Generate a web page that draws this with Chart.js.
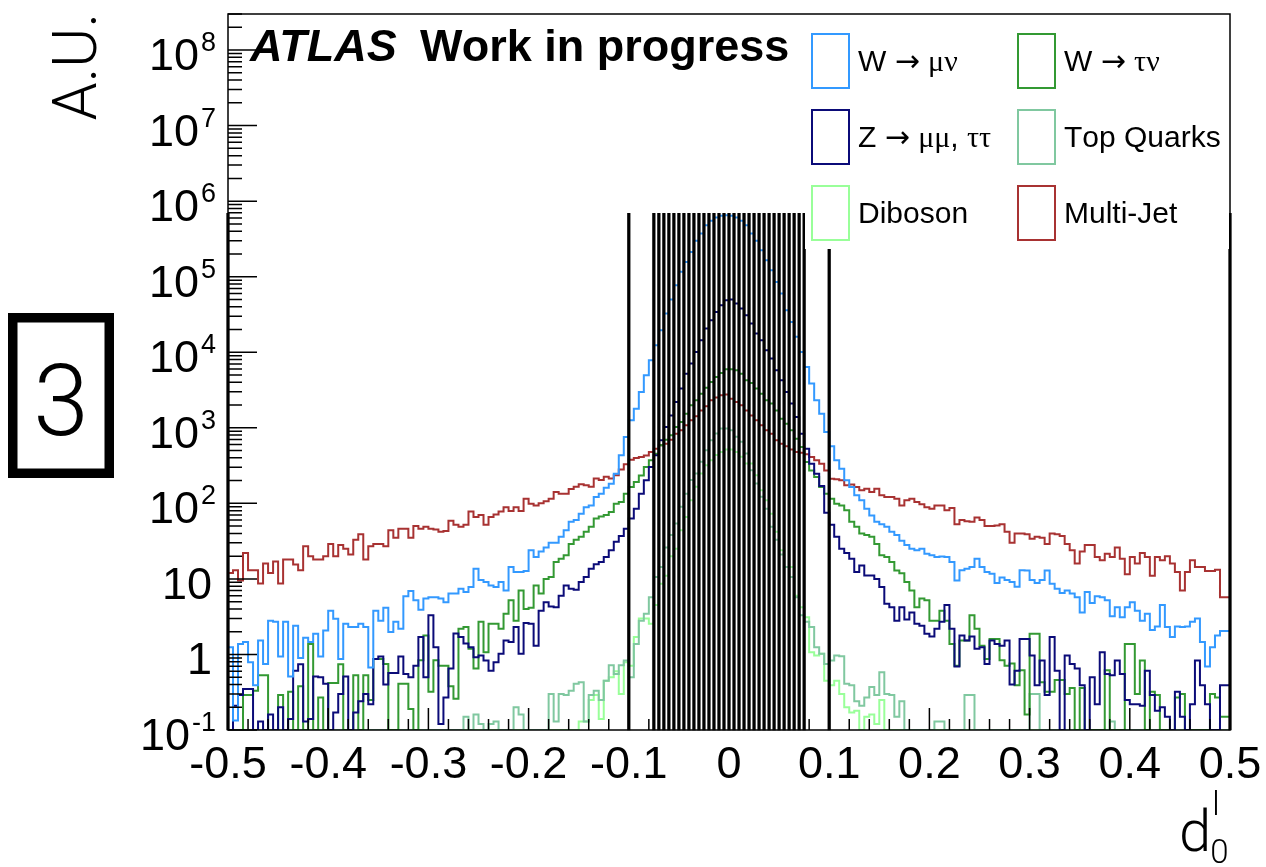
<!DOCTYPE html>
<html>
<head>
<meta charset="utf-8">
<title>d0 distribution</title>
<script src="https://cdn.jsdelivr.net/npm/chart.js@4.4.1/dist/chart.umd.min.js"></script>
<style>
  html, body { margin: 0; padding: 0; background: #fff; }
  canvas { display: block; }
</style>
</head>
<body>
<canvas id="chart" width="1266" height="867"></canvas>
<script>
// 200 bins of 0.005 between -0.5 and 0.5
const binLow = -0.5;
const binWidth = 0.005;

// bin contents, empty bins are 0
const wmunu = [
  0.68, 1.25, 0.134, 1.38, 1.46, 0.79, 0.39, 1.53, 0.75, 2.8,
  2.7, 0.94, 2.7, 0.51, 2.4, 0.9, 1.66, 1.46, 1.88, 0.94,
  2.08, 3.8, 2.97, 0.87, 2.55, 2.3, 2.3, 2.55, 2.3, 0.67,
  3.8, 2.8, 4.15, 1.98, 2.7, 2.19, 5.9, 6.9, 5.2, 3.9,
  5.5, 5.7, 5.7, 5.5, 4.9, 6.4, 6.4, 7.4, 6.7, 7.8,
  13.6, 9.7, 9.1, 8.2, 7.8, 9.1, 7.0, 14.4, 12.3, 12.3,
  12.7, 24, 19.5, 23, 26, 30, 30, 36, 44, 57,
  60, 73, 89, 94, 121, 134, 161, 182, 247, 432,
  755, 1256, 1790, 2980, 4950, 7830, 12400, 19500, 32500, 49800,
  77100, 116000, 157000, 213000, 298000, 373000, 481000, 549000, 607000, 640000,
  653000, 640000, 607000, 549000, 481000, 373000, 298000, 224000, 165000, 122000,
  85300, 59800, 36000, 25200, 16000, 10100, 6400, 3850, 2310, 1540,
  880, 569, 372, 288, 202, 164, 128, 110, 85, 69,
  57, 53, 49, 42, 38, 32, 28, 25, 24, 25,
  21.5, 20.5, 19.5, 19.8, 19.5, 16.7, 9.5, 13, 13.6, 14.4,
  18.5, 14.4, 12.3, 11.7, 8.8, 10.4, 9.7, 9.1, 7.9, 13,
  12.9, 9.7, 8.8, 9.7, 12.9, 8.6, 7.4, 6.5, 7.0, 6.4,
  5.7, 3.6, 6.7, 4.8, 5.9, 5.7, 5.2, 3.2, 4.2, 3.1,
  4.2, 4.9, 3.8, 2.8, 3.45, 2.1, 2.35, 4.5, 2.3, 1.7,
  2.35, 2.3, 2.35, 2.7, 3.0, 1.46, 0.69, 1.25, 1.78, 2.04
];

const wtaunu = [
  0.45, 0, 0, 0, 0.29, 0.29, 0.33, 0.53, 0.53, 0,
  0, 0.29, 0, 0.32, 0, 0.38, 0, 1.38, 0, 0.27,
  0, 0.42, 0.42, 0.74, 0, 0, 0.53, 0, 0.53, 0.25,
  0.87, 0.87, 0.75, 0, 0, 0.41, 0.41, 0.19, 0, 0.84,
  1.78, 0.32, 0.84, 0.71, 0.71, 0.38, 0.26, 2.19, 2.3, 1.19,
  0.65, 2.7, 1.07, 2.55, 2.55, 2.19, 3.45, 5.2, 2.8, 7.0,
  4.0, 4.15, 8.2, 6.4, 10, 10.6, 16.7, 18.5, 20.5, 29,
  33, 36, 42, 49, 63, 67, 70, 77, 99, 104,
  134, 164, 191, 234, 303, 371, 455, 586, 697, 795,
  1025, 1195, 1540, 1990, 2310, 2830, 3400, 4040, 4710, 5320,
  5950, 5950, 5770, 5210, 4250, 3920, 3300, 2830, 2310, 2090,
  1700, 1320, 1135, 927, 718, 557, 352, 273, 223, 164,
  134, 115, 99, 94, 81, 57, 49, 40, 38, 36,
  29, 20.5, 19.5, 16.7, 12.9, 11.9, 9.1, 7.0, 4.2, 5.5,
  5.2, 2.8, 2.8, 3.8, 2.8, 1.38, 0.71, 1.53, 1.53, 3.3,
  2.19, 1.3, 0.87, 1.6, 1.6, 0.84, 0.71, 0.76, 0.39, 0.62,
  0.16, 1.88, 1.88, 0.43, 0.32, 0.32, 0.46, 0.46, 0.3, 0.36,
  0, 0.36, 0, 0, 0, 0, 0.62, 0, 0, 0,
  1.38, 1.38, 0.3, 0.83, 0, 0.32, 0.29, 0, 0, 0,
  0.27, 0.3, 0, 0, 0, 0, 0, 0.3, 0.27, 0.15
];

const zll = [
  0.19, 0, 0.21, 0.29, 0.35, 0.35, 0, 0.13, 0, 0.16,
  0, 0.2, 0, 0.14, 0.61, 0.74, 0.13, 0.14, 0.51, 0.5,
  0.41, 0, 0.17, 0.3, 0.51, 0, 0.17, 0.24, 0.3, 0.22,
  0.87, 0.94, 0.4, 0.57, 0.57, 0.94, 0.55, 0.5, 0.71, 1.7,
  0.5, 3.3, 1.25, 0.12, 0.27, 0.65, 1.9, 1.7, 1.4, 1.25,
  0.92, 0.97, 0.83, 0.61, 0.79, 1.02, 1.53, 1.46, 2.3, 1.02,
  2.6, 2.55, 1.3, 3.8, 4.9, 4.3, 4.2, 6.0, 8.2, 7.4,
  7.2, 9.1, 10.6, 13.6, 15.6, 16.7, 19.5, 24, 31, 37,
  46, 63, 85, 134, 202, 303, 433, 683, 1025, 1460,
  2200, 3300, 5210, 7070, 10100, 14400, 20600, 26500, 34200, 41900,
  48800, 49800, 44100, 37900, 30900, 24000, 17700, 14400, 10600, 8240,
  5770, 4250, 2980, 2090, 1390, 836, 530, 335, 247, 170,
  75, 52, 36, 25, 22, 18.5, 12.3, 15.1, 11.1, 11.1,
  10, 7.8, 4.7, 4.2, 2.8, 4.2, 2.9, 3.6, 2.55, 2.4,
  1.88, 1.73, 2.19, 2.7, 4.5, 2.19, 0.69, 1.78, 1.53, 1.73,
  1.19, 1.25, 0.75, 1.53, 1.38, 1.3, 1.53, 0.4, 0.61, 1.6,
  1.6, 0.97, 0.39, 0.83, 0.29, 1.7, 0.61, 0, 0.97, 0.75,
  0.65, 0.39, 0, 0.5, 0.22, 1.07, 0.55, 0.53, 0.83, 0.55,
  0.25, 0.22, 0.22, 0.21, 0.61, 0.29, 0.18, 0.2, 0.15, 0,
  0.32, 0.15, 0, 0.22, 0.83, 0.39, 0.22, 0, 0, 0.39
];

const topQuarks = [
  0, 0, 0, 0, 0, 0, 0, 0, 0, 0,
  0, 0, 0, 0, 0, 0, 0, 0, 0, 0,
  0, 0, 0, 0, 0, 0, 0, 0, 0, 0,
  0, 0, 0, 0, 0, 0, 0, 0, 0, 0,
  0, 0, 0, 0, 0, 0, 0, 0, 0.15, 0,
  0.16, 0.12, 0, 0.12, 0.13, 0, 0, 0, 0.2, 0.16,
  0, 0, 0, 0, 0, 0.3, 0.13, 0.3, 0.29, 0.33,
  0.41, 0.43, 0.13, 0.29, 0.33, 0.25, 0.45, 0.72, 0.55, 0.72,
  0.83, 0.5, 1.38, 2.8, 3.45, 5.7, 10.6, 14.4, 26, 38,
  54, 90, 134, 203, 248, 355, 506, 686, 840, 980,
  980, 930, 760, 652, 457, 275, 183, 122, 85, 49,
  33, 21, 14.4, 10.6, 5.7, 3.3, 2.7, 2.3, 1.25, 1.02,
  0.75, 0.83, 0.97, 0.95, 0.41, 0.39, 0.24, 0.21, 0.27, 0.37,
  0.29, 0.58, 0.3, 0.29, 0.15, 0.24, 0, 0, 0, 0,
  0, 0, 0.13, 0.13, 0, 0, 0, 0, 0.29, 0.29,
  0, 0, 0, 0, 0, 0, 0, 0, 0, 0,
  0, 0.3, 0.3, 0, 0, 0, 0, 0, 0, 0,
  0, 0, 0, 0, 0, 0, 0, 0.13, 0, 0,
  0, 0, 0, 0, 0, 0, 0, 0, 0, 0,
  0, 0, 0, 0, 0, 0, 0, 0, 0, 0
];

const diboson = [
  0, 0, 0, 0, 0, 0, 0, 0, 0, 0,
  0, 0, 0, 0, 0, 0, 0, 0, 0, 0,
  0, 0, 0, 0, 0, 0, 0, 0, 0, 0,
  0, 0, 0, 0, 0, 0, 0, 0, 0, 0,
  0, 0, 0, 0, 0, 0, 0, 0, 0, 0,
  0, 0, 0, 0, 0, 0, 0, 0, 0, 0,
  0, 0, 0, 0, 0, 0, 0, 0, 0, 0,
  0, 0.13, 0.13, 0.25, 0.29, 0.14, 0.45, 0.5, 0.6, 0.3,
  0.79, 0.71, 1.7, 3.0, 3.0, 2.55, 4.5, 8.6, 11, 20,
  25, 44, 66, 110, 166, 248, 320, 373, 435, 480,
  517, 517, 480, 413, 336, 336, 236, 149, 110, 73,
  42, 24, 14.4, 14.4, 6.0, 4.2, 3.1, 1.07, 0.97, 1.02,
  0.45, 0.39, 0.45, 0.3, 0.2, 0.17, 0.18, 0, 0.15, 0.16,
  0.12, 0.25, 0, 0, 0, 0, 0, 0, 0, 0,
  0, 0, 0, 0, 0, 0, 0, 0, 0, 0,
  0, 0, 0, 0, 0, 0, 0, 0, 0, 0,
  0, 0, 0, 0, 0, 0, 0, 0, 0, 0,
  0, 0, 0, 0, 0, 0, 0, 0, 0, 0,
  0, 0, 0, 0, 0, 0, 0, 0, 0, 0,
  0, 0, 0, 0, 0, 0, 0, 0, 0, 0
];

const multijet = [
  4, 12, 13, 9.5, 22, 13, 13, 8.7, 16, 12,
  17, 8.7, 18, 18, 15.5, 13, 27, 20, 18, 18,
  20, 29, 20, 28, 25, 21, 33, 39, 18, 27,
  29, 29, 27, 44, 35, 46, 46, 35, 50, 46,
  49, 46, 45, 42, 43, 59, 52, 49, 52, 78,
  66, 70, 52, 66, 71, 78, 89, 79, 89, 79,
  115, 99, 94, 100, 107, 115, 141, 134, 134, 155,
  166, 179, 174, 166, 213, 204, 225, 213, 236, 280,
  330, 378, 398, 410, 430, 478, 530, 586, 617, 697,
  835, 927, 1080, 1260, 1420, 1700, 1930, 2310, 2510, 2700,
  2750, 2430, 2200, 1990, 1700, 1460, 1260, 1080, 927, 835,
  683, 617, 569, 515, 478, 469, 446, 410, 371, 335,
  273, 212, 208, 202, 173, 178, 164, 149, 156, 141,
  156, 128, 121, 121, 115, 94, 110, 115, 104, 97,
  89, 85, 94, 94, 81, 87, 53, 60, 58, 57,
  65, 60, 50, 50, 51, 53, 42, 30, 40, 40,
  39, 34, 36, 35, 29, 40, 39, 37, 29, 24,
  16, 23, 28, 28, 19.5, 17.6, 21.5, 19.5, 26, 18.5,
  11.5, 19.5, 16, 22, 19.5, 11, 19.5, 17.6, 20, 16,
  12.3, 7, 12.3, 17.6, 14.4, 14.4, 12.7, 12.7, 13.2, 5.7
];

// black vertical lines
const cutEdges = [
  -0.5, -0.1,
  -0.075, -0.07, -0.065, -0.06, -0.055, -0.05, -0.045, -0.04, -0.035, -0.03, -0.025,
  -0.02, -0.015, -0.01, -0.005, 0, 0.005, 0.01, 0.015, 0.02, 0.025, 0.03, 0.035,
  0.04, 0.045, 0.05, 0.055, 0.06, 0.065, 0.07, 0.075,
  0.1, 0.5
];
const cutTop = 6.9e5;

const xTicks = [-0.5, -0.4, -0.3, -0.2, -0.1, 0, 0.1, 0.2, 0.3, 0.4, 0.5];
const xTickLabels = ['-0.5', '-0.4', '-0.3', '-0.2', '-0.1', '0', '0.1', '0.2', '0.3', '0.4', '0.5'];
const yTicks = [0.1, 1, 10, 1e2, 1e3, 1e4, 1e5, 1e6, 1e7, 1e8];
const yTickLabels = [['10', '-1'], ['1', ''], ['10', ''], ['10', '2'], ['10', '3'],
  ['10', '4'], ['10', '5'], ['10', '6'], ['10', '7'], ['10', '8']];

const yMin = 0.1;
const yMax = 3e8;

const legendItems = [
  { label: 'W → μν', color: '#3399ff' },
  { label: 'W → τν', color: '#339933' },
  { label: 'Z → μμ, ττ', color: '#0b0b78' },
  { label: 'Top Quarks', color: '#80c8a0' },
  { label: 'Diboson', color: '#99ff99' },
  { label: 'Multi-Jet', color: '#a83232' },
];

const SANS = '"Liberation Sans", Arial, sans-serif';
const SERIF = '"Liberation Serif", "DejaVu Serif", serif';
const ARROW = '"DejaVu Sans", sans-serif';
const LIGHT = 'Roboto, "Liberation Sans", sans-serif';

// histogram outline as a stepped line through the bin edges
const steps = (vals) => {
  const pts = vals.map((v, i) => ({ x: binLow + i * binWidth, y: v > 0 ? v : yMin }));
  pts.push({ x: binLow + vals.length * binWidth, y: pts[pts.length - 1].y });
  return pts;
};

const hist = (vals, item, order) => ({
  type: 'line',
  label: item.label,
  data: steps(vals),
  borderColor: item.color,
  backgroundColor: item.color,
  borderWidth: 2,
  stepped: 'after',
  pointRadius: 0,
  fill: false,
  order: order,
});

// greek letters in a serif face and arrows from DejaVu, like ROOT's symbol font
const drawMixed = (ctx, text, x, y, size) => {
  for (const ch of text) {
    let face = SANS;
    if (/[\u0370-\u03ff]/.test(ch)) face = SERIF;
    if (/[\u2190-\u21ff]/.test(ch)) face = ARROW;
    ctx.font = `${size}px ${face}`;
    ctx.fillText(ch, x, y);
    x += ctx.measureText(ch).width;
  }
};

const rootDecor = {
  id: 'rootDecor',
  afterDraw(chart) {
    const { ctx, chartArea: a } = chart;
    const xs = chart.scales.x;
    const ys = chart.scales.y;
    ctx.save();

    // legend (white box hides the lines behind it)
    ctx.fillStyle = '#fff';
    ctx.fillRect(805, a.top + 1, a.right - 806, 234);
    const cols = [812, 1018];
    const rows = [34, 110, 186];
    legendItems.forEach((it, i) => {
      const bx = cols[i % 2];
      const by = rows[Math.floor(i / 2)];
      ctx.strokeStyle = it.color;
      ctx.lineWidth = 2;
      ctx.strokeRect(bx, by, 37, 54);
      ctx.fillStyle = '#000';
      ctx.textAlign = 'left';
      ctx.textBaseline = 'alphabetic';
      drawMixed(ctx, it.label, bx + 46, by + 37, 30);
    });

    // frame
    ctx.strokeStyle = '#000';
    ctx.lineWidth = 1.5;
    ctx.strokeRect(a.left, a.top, a.right - a.left, a.bottom - a.top);

    // x ticks, inside the frame
    ctx.beginPath();
    for (let k = 0; k <= 50; k++) {
      const v = -0.5 + k * 0.02;
      const px = xs.getPixelForValue(v);
      const len = k % 5 === 0 ? 22 : 11;
      ctx.moveTo(px, a.bottom);
      ctx.lineTo(px, a.bottom - len);
    }
    // y ticks
    for (let e = -1; e <= 8; e++) {
      for (let m = 1; m <= 9; m++) {
        const v = m * Math.pow(10, e);
        if (v > yMax) continue;
        const py = ys.getPixelForValue(v);
        const len = m === 1 ? 29 : 14;
        ctx.moveTo(a.left, py);
        ctx.lineTo(a.left + len, py);
      }
    }
    ctx.stroke();

    // x tick labels
    ctx.fillStyle = '#000';
    ctx.font = `45px ${SANS}`;
    ctx.textAlign = 'center';
    ctx.textBaseline = 'alphabetic';
    xTicks.forEach((v, i) => {
      ctx.fillText(xTickLabels[i], xs.getPixelForValue(v), 778);
    });

    // y tick labels with exponents
    yTicks.forEach((v, i) => {
      const [base, exp] = yTickLabels[i];
      const py = ys.getPixelForValue(v);
      ctx.textAlign = 'right';
      if (exp) {
        ctx.font = `27px ${SANS}`;
        const we = ctx.measureText(exp).width;
        ctx.fillText(exp, 216, py + 1);
        ctx.font = `45px ${SANS}`;
        ctx.fillText(base, 214 - we, py + 20);
      } else {
        ctx.font = `45px ${SANS}`;
        ctx.fillText(base, 212, py + 20);
      }
    });

    // axis titles
    ctx.save();
    ctx.translate(96, 13);
    ctx.rotate(-Math.PI / 2);
    ctx.font = `300 61px ${LIGHT}`;
    ctx.textAlign = 'right';
    ctx.fillText('A.U.', 0, 0);
    ctx.restore();

    ctx.textAlign = 'left';
    ctx.font = `300 58px ${LIGHT}`;
    ctx.fillText('d', 1179, 851);
    const wd = ctx.measureText('d').width;
    ctx.font = `300 33px ${LIGHT}`;
    ctx.fillText('0', 1179 + wd - 1, 863);
    ctx.fillText('l', 1179 + wd + 1, 815);

    // ATLAS label
    ctx.font = `italic bold 45px ${SANS}`;
    ctx.fillText('ATLAS', 250, 61);
    ctx.font = `bold 45px ${SANS}`;
    ctx.fillText('Work in progress', 420, 61);

    // boxed "3"
    ctx.strokeStyle = '#000';
    ctx.lineWidth = 9;
    ctx.strokeRect(13, 318, 96, 155);
    ctx.lineWidth = 2;
    ctx.strokeRect(9, 314, 104, 163);
    ctx.font = `300 100px ${LIGHT}`;
    ctx.textAlign = 'center';
    ctx.fillText('3', 61, 435);

    ctx.restore();
  }
};

const datasets = [
  {
    type: 'bar',
    label: 'cuts',
    data: cutEdges.map(x => ({ x: x, y: [yMin, cutTop] })),
    backgroundColor: '#000',
    borderWidth: 0,
    barThickness: 2.6,
    clip: false,
    order: 0,
  },
  hist(wmunu, legendItems[0], 1),
  hist(zll, legendItems[2], 2),
  hist(wtaunu, legendItems[1], 3),
  hist(topQuarks, legendItems[3], 4),
  hist(diboson, legendItems[4], 5),
  hist(multijet, legendItems[5], 6),
];

const chart = new Chart(document.getElementById('chart').getContext('2d'), {
  type: 'line',
  data: { datasets: datasets },
  options: {
    responsive: false,
    animation: false,
    devicePixelRatio: 1,
    events: [],
    layout: { padding: { left: 228, right: 36, top: 14, bottom: 137 } },
    scales: {
      x: { type: 'linear', min: -0.5, max: 0.5, offset: false, display: false },
      y: { type: 'logarithmic', min: yMin, max: yMax, display: false },
    },
    plugins: {
      legend: { display: false },
      tooltip: { enabled: false },
    },
  },
  plugins: [rootDecor],
});
</script>
</body>
</html>
